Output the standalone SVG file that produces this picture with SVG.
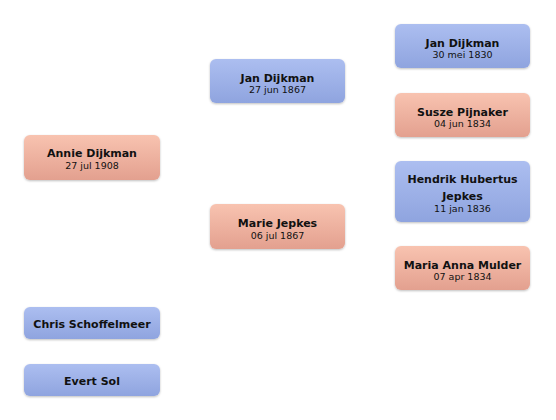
<svg xmlns="http://www.w3.org/2000/svg" width="556" height="420" viewBox="0 0 556 420">
<defs>
<linearGradient id="gb" x1="0" y1="0" x2="0" y2="1"><stop offset="0" stop-color="#acbef0"/><stop offset="1" stop-color="#8fa4df"/></linearGradient>
<linearGradient id="gp" x1="0" y1="0" x2="0" y2="1"><stop offset="0" stop-color="#f8c3b0"/><stop offset="1" stop-color="#e3a08f"/></linearGradient>
<filter id="sh" x="-10%" y="-20%" width="120%" height="150%"><feDropShadow dx="0" dy="1" stdDeviation="1" flood-color="#000" flood-opacity="0.25"/></filter>
</defs>
<style>
.b{fill:url(#gb);filter:url(#sh)}
.p{fill:url(#gp);filter:url(#sh)}
text{font-family:"DejaVu Sans","Liberation Sans",sans-serif;fill:#111;text-anchor:middle}
.n{font-size:11px;font-weight:bold}
.d{font-size:9.5px}
</style>
<rect width="556" height="420" fill="#fff"/>
<g id="connectors"></g>
<g id="annie"><rect class="p" x="24" y="135" width="136" height="45" rx="6"/><text class="n" x="92" y="157">Annie Dijkman</text><text class="d" x="92" y="169">27 jul 1908</text></g>
<g id="jan1867"><rect class="b" x="210" y="59" width="135" height="44" rx="6"/><text class="n" x="277.5" y="81.5">Jan Dijkman</text><text class="d" x="277.5" y="93">27 jun 1867</text></g>
<g id="marie"><rect class="p" x="210" y="204" width="135" height="45" rx="6"/><text class="n" x="277.5" y="227">Marie Jepkes</text><text class="d" x="277.5" y="239">06 jul 1867</text></g>
<g id="jan1830"><rect class="b" x="395" y="24" width="135" height="44" rx="6"/><text class="n" x="462.5" y="46.5">Jan Dijkman</text><text class="d" x="462.5" y="58">30 mei 1830</text></g>
<g id="susze"><rect class="p" x="395" y="93" width="135" height="44" rx="6"/><text class="n" x="462.5" y="115.5">Susze Pijnaker</text><text class="d" x="462.5" y="127">04 jun 1834</text></g>
<g id="hendrik"><rect class="b" x="395" y="161" width="135" height="61" rx="6"/><text class="n" x="462.5" y="182.5">Hendrik Hubertus</text><text class="n" x="462.5" y="200">Jepkes</text><text class="d" x="462.5" y="212">11 jan 1836</text></g>
<g id="maria"><rect class="p" x="395" y="246" width="135" height="44" rx="6"/><text class="n" x="462.5" y="268.5">Maria Anna Mulder</text><text class="d" x="462.5" y="280">07 apr 1834</text></g>
<g id="chris"><rect class="b" x="24" y="307" width="136" height="32" rx="6"/><text class="n" x="92" y="327.5">Chris Schoffelmeer</text></g>
<g id="evert"><rect class="b" x="24" y="364" width="136" height="32" rx="6"/><text class="n" x="92" y="384.5">Evert Sol</text></g>
</svg>
